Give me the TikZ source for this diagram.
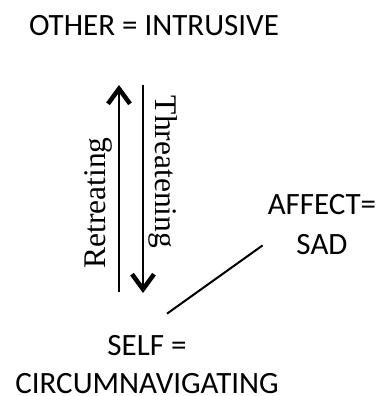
\documentclass[tikz,border=0pt]{standalone}
\usepackage{fontspec}
\setmainfont{Liberation Serif}
\newfontfamily\labelfont{Carlito}
\usetikzlibrary{arrows.meta,calc}
\begin{document}
\begin{tikzpicture}[x=1pt,y=1pt,
  state/.style={font=\labelfont\fontsize{31}{40}\selectfont, align=center, inner sep=0pt},
  move/.style={font=\fontsize{31.5}{36}\selectfont, inner sep=0pt},
  axis/.style={line width=2pt, -{Straight Barb[length=15pt,width=22pt,line width=4.5pt]}},
  link/.style={line width=2pt}]
\useasboundingbox (0,0) rectangle (380,396);
% the three poles (base anchor sits on the last line)
\node[state, anchor=base] (other) at (154,360) {OTHER = INTRUSIVE};
\node[state, anchor=base] (affect) at (322,141) {AFFECT=\\SAD};
\node[state, anchor=base, text depth=0pt, font=\labelfont\fontsize{31}{38}\selectfont] (self) at (147,2) {SELF =\\CIRCUMNAVIGATING};
% the vertical axis: two opposed arrows
\coordinate (retreatfoot) at (119,104);
\coordinate (retreathead) at (119,311);
\coordinate (threatfoot) at (143,311);
\coordinate (threathead) at (143,103);
\draw[axis] (retreatfoot) -- (retreathead);
\draw[axis] (threatfoot) -- (threathead);
\node[move, rotate=90, anchor=base] (retreat) at (105,193) {Retreating};
\node[move, rotate=-90, anchor=base] (threat) at (155,224) {Threatening};
% link between affect and self
\draw[link] ($(affect.south west)+(-5,10)$) -- ($(self.north)+(20,22)$);
\end{tikzpicture}
\end{document}
